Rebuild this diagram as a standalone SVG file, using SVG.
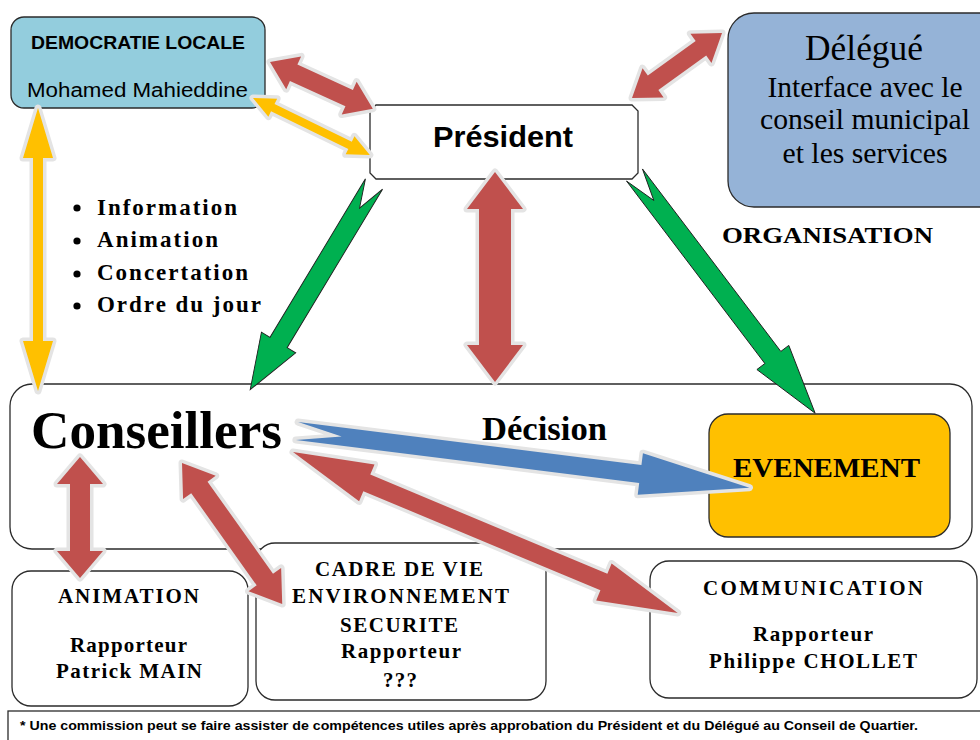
<svg xmlns="http://www.w3.org/2000/svg" width="980" height="740" viewBox="0 0 980 740">
<style>
.box{fill:#fff;stroke:#2b2b2b;stroke-width:1.3}
.serifb{font-family:"Liberation Serif","Times New Roman",serif;font-weight:bold;fill:#000}
.serif{font-family:"Liberation Serif","Times New Roman",serif;fill:#000}
.sans{font-family:"Liberation Sans",Arial,sans-serif;fill:#000}
.mid{text-anchor:middle}
.red{fill:#C0504D}
.yel{fill:#FFC000}
.blu{fill:#4F81BD}
.halo{stroke:#e4e4e4;stroke-width:7;stroke-linejoin:round;paint-order:stroke}
.grn{fill:#00B050;stroke:#1e1e1e;stroke-width:0.9;stroke-linejoin:miter}
</style>
<rect width="980" height="740" fill="#fff"/>

<g id="conseillers">
<rect class="box" x="10" y="384" width="962" height="165" rx="22"/>
<text class="serifb" x="31" y="448" font-size="53" textLength="251" lengthAdjust="spacingAndGlyphs">Conseillers</text>
</g>

<g id="democratie-locale">
<rect x="11" y="17" width="254" height="91" rx="13" fill="#93CDDD" stroke="#2b2b2b" stroke-width="1.3"/>
<text class="sans" x="31" y="49" font-size="19" font-weight="bold" textLength="214" lengthAdjust="spacingAndGlyphs">DEMOCRATIE LOCALE</text>
<text class="sans" x="27" y="97" font-size="20" textLength="221" lengthAdjust="spacingAndGlyphs">Mohamed Mahieddine</text>
</g>

<g id="president">
<polygon class="box" points="376,105 632,105 638,111 638,173 632,179 376,179 370,173 370,111"/>
<text class="sans" x="433" y="147" font-size="30" font-weight="bold" textLength="140" lengthAdjust="spacingAndGlyphs">Président</text>
</g>

<g id="delegue">
<rect x="728" y="13" width="280" height="194" rx="26" fill="#95B3D7" stroke="#2b2b2b" stroke-width="1.3"/>
<text class="serif mid" x="864" y="60" font-size="35" textLength="118" lengthAdjust="spacingAndGlyphs">Délégué</text>
<text class="serif mid" x="865" y="97" font-size="29" textLength="195" lengthAdjust="spacingAndGlyphs">Interface avec le</text>
<text class="serif mid" x="865" y="129" font-size="29" textLength="210" lengthAdjust="spacingAndGlyphs">conseil municipal</text>
<text class="serif mid" x="865" y="163" font-size="29" textLength="165" lengthAdjust="spacingAndGlyphs">et les services</text>
</g>

<g id="evenement">
<rect x="709" y="414" width="241" height="123" rx="19" fill="#FFC000" stroke="#2b2b2b" stroke-width="1.3"/>
<text class="serifb" x="733" y="477" font-size="28" textLength="187" lengthAdjust="spacingAndGlyphs">EVENEMENT</text>
</g>

<g id="animation">
<rect class="box" x="12" y="571" width="236" height="135" rx="19"/>
<text class="serifb" x="58" y="603" font-size="21" textLength="141" lengthAdjust="spacing">ANIMATION</text>
<text class="serifb" x="70" y="652" font-size="21" textLength="117" lengthAdjust="spacing">Rapporteur</text>
<text class="serifb" x="56" y="678" font-size="21" textLength="146" lengthAdjust="spacing">Patrick MAIN</text>
</g>

<g id="cadre-de-vie">
<rect class="box" x="256" y="543" width="290" height="157" rx="19"/>
<text class="serifb" x="315" y="576" font-size="21" textLength="168" lengthAdjust="spacing">CADRE DE VIE</text>
<text class="serifb" x="292" y="603" font-size="21" textLength="217" lengthAdjust="spacing">ENVIRONNEMENT</text>
<text class="serifb" x="340" y="632" font-size="21" textLength="118" lengthAdjust="spacing">SECURITE</text>
<text class="serifb" x="341" y="658" font-size="21" textLength="120" lengthAdjust="spacing">Rapporteur</text>
<text class="serifb" x="383" y="687" font-size="21" textLength="34" lengthAdjust="spacing">???</text>
</g>

<g id="communication">
<rect class="box" x="650" y="561" width="327" height="137" rx="19"/>
<text class="serifb" x="703" y="595" font-size="21" textLength="220" lengthAdjust="spacing">COMMUNICATION</text>
<text class="serifb" x="753" y="641" font-size="21" textLength="120" lengthAdjust="spacing">Rapporteur</text>
<text class="serifb" x="709" y="668" font-size="21" textLength="208" lengthAdjust="spacing">Philippe CHOLLET</text>
</g>

<g id="labels">
<g class="serifb" font-size="23">
<circle cx="77" cy="208" r="3.6" fill="#000"/>
<text x="97" y="215" textLength="140" lengthAdjust="spacing">Information</text>
<circle cx="77" cy="241" r="3.6" fill="#000"/>
<text x="97" y="247" textLength="121" lengthAdjust="spacing">Animation</text>
<circle cx="77" cy="274" r="3.6" fill="#000"/>
<text x="97" y="280" textLength="151" lengthAdjust="spacing">Concertation</text>
<circle cx="77" cy="306" r="3.6" fill="#000"/>
<text x="97" y="312" textLength="164" lengthAdjust="spacing">Ordre du jour</text>
</g>
<text class="serifb" x="722" y="243" font-size="24" textLength="211" lengthAdjust="spacingAndGlyphs">ORGANISATION</text>
<text class="serifb" x="482" y="440" font-size="33" textLength="125" lengthAdjust="spacingAndGlyphs">Décision</text>
</g>

<g id="footer">
<rect x="8" y="711" width="975" height="40" fill="#fff" stroke="#2b2b2b" stroke-width="1.3"/>
<text class="sans" x="20" y="730" font-size="13" font-weight="bold" textLength="898" lengthAdjust="spacingAndGlyphs">* Une commission peut se faire assister de compétences utiles après approbation du Président et du Délégué au Conseil de Quartier.</text>
</g>

<g id="connectors">
<!-- Democratie <-> President (red) -->
<polygon class="red halo" transform="translate(270,62) rotate(24.5)" points="0,0 26,-18 26,-9 87,-9 87,-18 113,0 87,18 87,9 26,9 26,18"/>
<!-- Democratie <-> President (yellow) -->
<polygon class="yel halo" transform="translate(253,98) rotate(26)" points="0,0 22,-10 22,-4 108,-4 108,-10 130,0 108,10 108,4 22,4 22,10"/>
<!-- Democratie <-> Conseillers (yellow vertical) -->
<polygon class="yel halo" transform="translate(38,108) rotate(90)" points="0,0 50,-15 50,-5 233,-5 233,-15 283,0 233,15 233,5 50,5 50,15"/>
<!-- President <-> Delegue (red) -->
<polygon class="red halo" transform="translate(632,98) rotate(-35.8)" points="0,0 26,-18 26,-9 85,-9 85,-18 111,0 85,18 85,9 26,9 26,18"/>
<!-- President <-> Conseillers (red vertical) -->
<polygon class="red halo" transform="translate(495,172) rotate(90)" points="0,0 37,-28 37,-16 173,-16 173,-28 210,0 173,28 173,16 37,16 37,28"/>
<!-- President -> Conseillers (green) -->
<polygon class="grn" transform="translate(374,184) rotate(121.05)" points="0,-10 185,-10 185,-20 240,0 185,20 185,10 0,10 28,0"/>
<!-- President -> Evenement (green) -->
<polygon class="grn" transform="translate(634.5,175) rotate(52.83)" points="0,-10 229,-10 229,-20 299,0 229,20 229,10 0,10 32,0"/>
<!-- Conseillers -> Evenement (blue) -->
<polygon class="blu halo" transform="translate(297,431) rotate(7.14)" points="0,-9 346,-9 346,-21 456,0 346,21 346,9 0,9 45,0"/>
<!-- Conseillers <-> Communication -->
<polygon class="red halo" transform="translate(293,452) rotate(22.7)" points="0,0 80,-20 80,-9 337,-9 337,-20 417,0 337,20 337,9 80,9 80,20"/>
<!-- Conseillers <-> Cadre de vie -->
<polygon class="red halo" transform="translate(182,463) rotate(54.6)" points="0,0 30,-20 30,-10 143,-10 143,-20 173,0 143,20 143,10 30,10 30,20"/>
<!-- Conseillers <-> Animation -->
<polygon class="red halo" transform="translate(80,457) rotate(90)" points="0,0 27,-23 27,-10 94,-10 94,-23 121,0 94,23 94,10 27,10 27,23"/>
</g>
</svg>
